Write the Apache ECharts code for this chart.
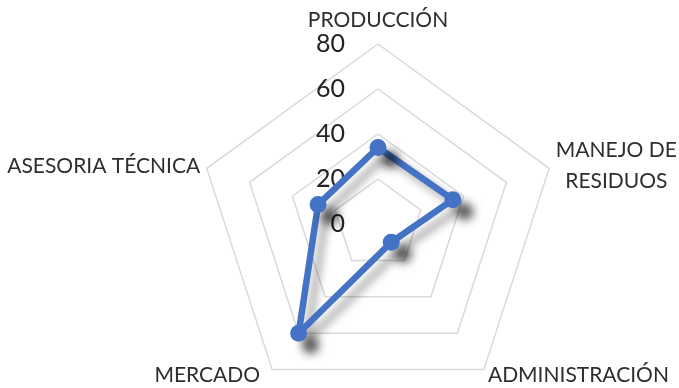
<!DOCTYPE html>
<html>
<head>
<meta charset="utf-8">
<script src="https://cdn.jsdelivr.net/npm/echarts@6/dist/echarts.min.js"></script>
<style>
  html, body { margin: 0; padding: 0; background: #ffffff; }
  #chart { width: 679px; height: 388px; }
</style>
</head>
<body>
<div id="chart"></div>
<script>
// Radar dimensions, clockwise from the top
const categories = ['PRODUCCIÓN', 'MANEJO DE\nRESIDUOS', 'ADMINISTRACIÓN', 'MERCADO', 'ASESORIA TÉCNICA'];
const values = [34, 35, 10, 60, 28];
const scaleMax = 80;
const tickStep = 20;
const tickLabels = ['0', '20', '40', '60', '80'];

const FONT = 'Lato, "Open Sans", sans-serif';
const center = [378, 224];
const radius = 180;

// ECharts lays indicators out counter-clockwise, so keep the first one
// on top and reverse the rest to read clockwise.
const order = [0].concat(categories.map((_, i) => i).slice(1).reverse());
const axisNames = order.map(i => categories[i]);
const axisValues = order.map(i => values[i]);

// rich style per dimension name (small nudges around the outer ring)
const nameStyle = { 0: 'top', 1: 'right', 2: 'brd', 3: 'bld', 4: 'left' };

const chart = echarts.init(document.getElementById('chart'), null, { renderer: 'canvas' });

const txt = { fontFamily: FONT, fontSize: 21, color: '#2e2e2e' };

chart.setOption({
  backgroundColor: '#ffffff',
  animation: false,
  radar: {
    center: center,
    radius: radius,
    startAngle: 90,
    shape: 'polygon',
    splitNumber: scaleMax / tickStep,
    indicator: axisNames.map(n => ({ name: n, min: 0, max: scaleMax })),
    nameGap: 7,
    axisName: Object.assign({}, txt, {
      formatter: function (name) {
        const s = nameStyle[categories.indexOf(name)];
        return name.split('\n').map(l => '{' + s + '|' + l + '}').join('\n');
      },
      rich: {
        top:   Object.assign({}, txt, { padding: [0, 0, 6, 0] }),
        right: Object.assign({}, txt, { align: 'center', lineHeight: 31 }),
        brd:   Object.assign({}, txt),
        bld:   Object.assign({}, txt, { padding: [0, 8, 0, 0] }),
        left:  Object.assign({}, txt)
      }
    }),
    axisLine: { show: false },
    axisTick: { show: false },
    axisLabel: { show: false },
    splitLine: { lineStyle: { color: '#d9d9d9', width: 1.5 } },
    splitArea: { show: false }
  },
  // value scale printed along the upper spoke
  grid: { left: center[0], top: center[1] - radius, width: 1, height: radius },
  xAxis: { type: 'value', show: false },
  yAxis: {
    type: 'value',
    min: 0,
    max: scaleMax,
    interval: tickStep,
    axisLine: { show: false },
    axisTick: { show: false },
    splitLine: { show: false },
    axisLabel: {
      margin: 33,
      color: '#222222',
      fontFamily: FONT,
      fontSize: 25,
      formatter: function (v) { return tickLabels[Math.round(v / tickStep)]; }
    }
  },
  series: [{
    type: 'radar',
    symbol: 'circle',
    symbolSize: 17,
    lineStyle: {
      color: '#4472c4',
      width: 6.5,
      shadowColor: 'rgba(0,0,0,0.35)',
      shadowBlur: 8,
      shadowOffsetX: 8,
      shadowOffsetY: 8
    },
    itemStyle: {
      color: '#4472c4',
      shadowColor: 'rgba(0,0,0,0.65)',
      shadowBlur: 10,
      shadowOffsetX: 12,
      shadowOffsetY: 12
    },
    data: [{ value: axisValues }]
  }]
});
</script>
</body>
</html>
